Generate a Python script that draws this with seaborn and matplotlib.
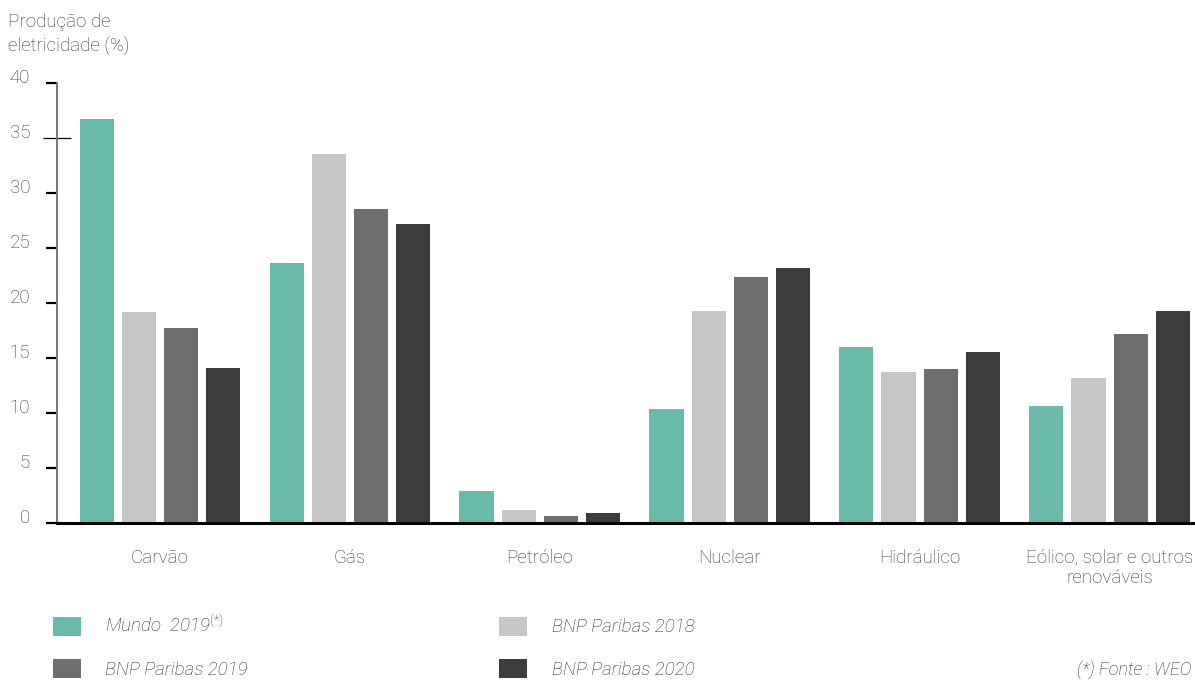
import matplotlib
matplotlib.use("Agg")
import matplotlib.pyplot as plt
import matplotlib.patches as mpatches
import seaborn as sns
import pandas as pd

# Share of electricity production by source (%)
categories = ["Carvão", "Gás", "Petróleo", "Nuclear", "Hidráulico",
              "Eólico, solar e outros\nrenováveis"]
series_names = ["Mundo  2019", "BNP Paribas 2018", "BNP Paribas 2019", "BNP Paribas 2020"]
mundo_2019 = [36.7, 23.6, 2.9, 10.4, 16.0, 10.6]
bnp_2018 = [19.2, 33.5, 1.2, 19.3, 13.7, 13.2]
bnp_2019 = [17.7, 28.5, 0.6, 22.4, 14.0, 17.2]
bnp_2020 = [14.1, 27.2, 0.9, 23.2, 15.5, 19.3]
colors = ["#67BBA8", "#C6C6C6", "#6E6E6E", "#3C3C3B"]
y_ticks = [0, 5, 10, 15, 20, 25, 30, 40]
y_tick_35 = [35]

sns.set_theme(style="white")
plt.rcParams["font.family"] = ["Roboto", "DejaVu Sans"]
plt.rcParams["mathtext.fontset"] = "custom"
plt.rcParams["mathtext.it"] = "Roboto:italic:light"
plt.rcParams["mathtext.rm"] = "Roboto:light"

rows = []
for name, vals in zip(series_names, [mundo_2019, bnp_2018, bnp_2019, bnp_2020]):
    for cat, v in zip(categories, vals):
        rows.append({"Fonte": cat, "Série": name, "Valor": v})
df = pd.DataFrame(rows)

fig = plt.figure(figsize=(11.95, 6.8), dpi=100)
ax = fig.add_axes([0.0477, 0.2309, 0.9523, 0.6471])

sns.barplot(data=df, x="Fonte", y="Valor", hue="Série", order=categories,
            hue_order=series_names, palette=colors, width=0.885, gap=0.19,
            saturation=1, edgecolor="none", legend=False, ax=ax)

ax.set_xlim(-0.54, 5.45)
ax.set_ylim(0, 40)
ax.set_xlabel("")
ax.set_ylabel("")

text_color = "#383838"
fs = 13.5
ax.set_yticks(y_ticks)
ax.set_yticklabels([str(t) for t in y_ticks])
ax.set_yticks(y_tick_35, minor=True)
ax.set_yticklabels([str(t) for t in y_tick_35], minor=True)
ax.tick_params(axis="y", which="major", left=True, direction="out", length=7.9,
               width=1.6, color="black", pad=11.5, labelsize=fs, labelcolor=text_color)
ax.tick_params(axis="y", which="minor", left=True, direction="inout", length=20,
               width=0.9, color="black", pad=9.4, labelsize=fs,
               labelcolor=text_color)
ax.tick_params(axis="x", length=0, pad=18.5, labelsize=fs, labelcolor=text_color)
for lbl in ax.get_yticklabels() + ax.get_yticklabels(minor=True):
    lbl.set_fontweight("light")
    lbl.set_verticalalignment("baseline")
for lbl in ax.get_xticklabels():
    lbl.set_fontweight("light")
    lbl.set_multialignment("center")

for s in ["top", "right"]:
    ax.spines[s].set_visible(False)
ax.spines["left"].set_color("#777777")
ax.spines["left"].set_linewidth(1.4)
ax.spines["bottom"].set_color("black")
ax.spines["bottom"].set_linewidth(2.2)

fig.text(0.007, 0.981, "Produção de\neletricidade (%)", ha="left", va="top",
         fontsize=fs, color=text_color, fontweight="light", linespacing=1.4)

legend_labels = [r"Mundo  2019$^{(*)}$", "BNP Paribas 2019",
                 "BNP Paribas 2018", "BNP Paribas 2020"]
handles = [mpatches.Patch(facecolor=c, edgecolor="none")
           for c in [colors[0], colors[2], colors[1], colors[3]]]
leg = fig.legend(handles, legend_labels, ncol=2, frameon=False,
                 loc="upper left", bbox_to_anchor=(0.044, 0.0956),
                 handlelength=1.5, handleheight=1.2, handletextpad=1.3,
                 labelspacing=1.21, columnspacing=13.4, borderaxespad=0, borderpad=0,
                 prop={"style": "italic", "weight": "light", "size": fs})
for t in leg.get_texts():
    t.set_color("#2e2e2e")

fig.text(0.997, 0.002, "(*) Fonte : WEO", ha="right", va="bottom", fontsize=13,
         style="italic", fontweight="light", color="#2e2e2e")

fig.savefig("out.png", dpi=100)
